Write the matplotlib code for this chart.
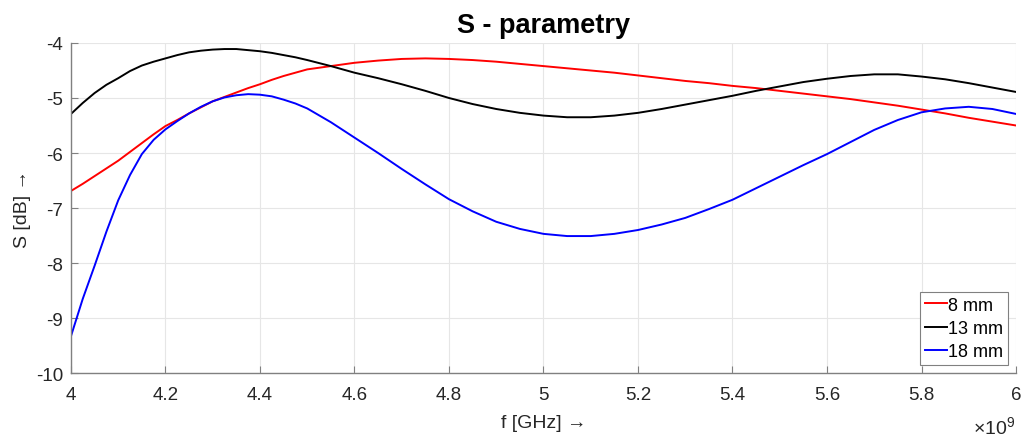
import matplotlib
matplotlib.use("Agg")
import matplotlib.pyplot as plt
from matplotlib.ticker import FuncFormatter

plt.rcParams['font.family'] = ['Liberation Sans', 'DejaVu Sans']
plt.rcParams['axes.unicode_minus'] = False
plt.rcParams['mathtext.fontset'] = 'custom'
plt.rcParams['mathtext.rm'] = 'Liberation Sans'

# frequency points [GHz]
f_ghz = [4.000, 4.025, 4.050, 4.075, 4.100, 4.125, 4.150, 4.175, 4.200, 4.225,
         4.250, 4.275, 4.300, 4.325, 4.350, 4.375, 4.400, 4.425, 4.450, 4.475,
         4.500, 4.55, 4.60, 4.65, 4.70, 4.75, 4.80, 4.85, 4.90, 4.95,
         5.00, 5.05, 5.10, 5.15, 5.20, 5.25, 5.30, 5.35, 5.40, 5.45,
         5.50, 5.55, 5.60, 5.65, 5.70, 5.75, 5.80, 5.85, 5.90, 5.95, 6.00]

s_8mm = [-6.69, -6.56, -6.42, -6.28, -6.14, -5.98, -5.82, -5.66, -5.51, -5.40,
         -5.28, -5.17, -5.06, -4.98, -4.90, -4.82, -4.75, -4.67, -4.60, -4.54,
         -4.48, -4.42, -4.36, -4.32, -4.29, -4.28, -4.29, -4.31, -4.34, -4.38,
         -4.42, -4.46, -4.50, -4.54, -4.59, -4.64, -4.69, -4.73, -4.78, -4.82,
         -4.87, -4.92, -4.97, -5.02, -5.08, -5.14, -5.21, -5.28, -5.36, -5.43, -5.50]

s_13mm = [-5.29, -5.09, -4.91, -4.76, -4.64, -4.51, -4.41, -4.34, -4.28, -4.22,
          -4.17, -4.14, -4.12, -4.11, -4.11, -4.13, -4.15, -4.18, -4.22, -4.26,
          -4.31, -4.42, -4.54, -4.64, -4.75, -4.87, -5.00, -5.11, -5.20, -5.27,
          -5.32, -5.35, -5.35, -5.32, -5.27, -5.20, -5.12, -5.04, -4.96, -4.87,
          -4.79, -4.71, -4.65, -4.60, -4.57, -4.57, -4.61, -4.66, -4.73, -4.81, -4.89]

s_18mm = [-9.33, -8.65, -8.05, -7.43, -6.86, -6.40, -6.02, -5.76, -5.57, -5.42,
          -5.28, -5.16, -5.06, -4.99, -4.95, -4.93, -4.94, -4.97, -5.03, -5.10,
          -5.19, -5.44, -5.72, -6.00, -6.29, -6.57, -6.84, -7.06, -7.25, -7.38,
          -7.47, -7.51, -7.51, -7.47, -7.40, -7.30, -7.18, -7.02, -6.85, -6.64,
          -6.43, -6.22, -6.02, -5.80, -5.58, -5.40, -5.26, -5.19, -5.16, -5.20, -5.29]

labels = ["8 mm", "13 mm", "18 mm"]
colors = ["#ff0000", "#000000", "#0000ff"]

fig = plt.figure(figsize=(10.27, 4.39), dpi=100)
ax = fig.add_axes([0.0691, 0.148, 0.9202, 0.7518])

for s, lab, c in zip([s_8mm, s_13mm, s_18mm], labels, colors):
    ax.plot(f_ghz, s, color=c, lw=1.4, label=lab)

ax.set_xlim(4, 6)
ax.set_ylim(-10, -4)
ax.set_xticks([4.0, 4.2, 4.4, 4.6, 4.8, 5.0, 5.2, 5.4, 5.6, 5.8, 6.0])
ax.set_yticks(range(-10, -3))
ax.xaxis.set_major_formatter(FuncFormatter(lambda v, p: "%g" % round(v, 2)))
ax.grid(True, color="#e6e6e6", lw=0.8)
ax.set_axisbelow(True)

for side in ["top", "right"]:
    ax.spines[side].set_visible(False)
for side in ["left", "bottom"]:
    ax.spines[side].set_color("#808080")
    ax.spines[side].set_linewidth(1.0)
ax.tick_params(direction="in", length=5, color="#808080", labelsize=13.5,
               labelcolor="#262626")
ax.tick_params(axis="x", pad=9.5)
ax.tick_params(axis="y", pad=5.5)

ax.set_title("S - parametry", fontsize=19.5, fontweight="bold", pad=8)
ax.set_xlabel("f [GHz] \u2192", fontsize=14, color="#262626", labelpad=8)
ax.set_ylabel("S [dB] \u2192", fontsize=14, color="#262626", labelpad=4)
fig.text(1015 / 1027, 0.009, "\u00d710$^{9}$", ha="right", va="baseline",
         fontsize=14, color="#262626")

leg = ax.legend(loc="lower right", fontsize=13, handlelength=1.2, handletextpad=0.1,
                borderpad=0.25, labelspacing=0.35, fancybox=False, framealpha=1,
                borderaxespad=0.45)
leg.get_frame().set_edgecolor("#808080")
leg.get_frame().set_linewidth(0.8)

fig.savefig("out.png", dpi=100)
